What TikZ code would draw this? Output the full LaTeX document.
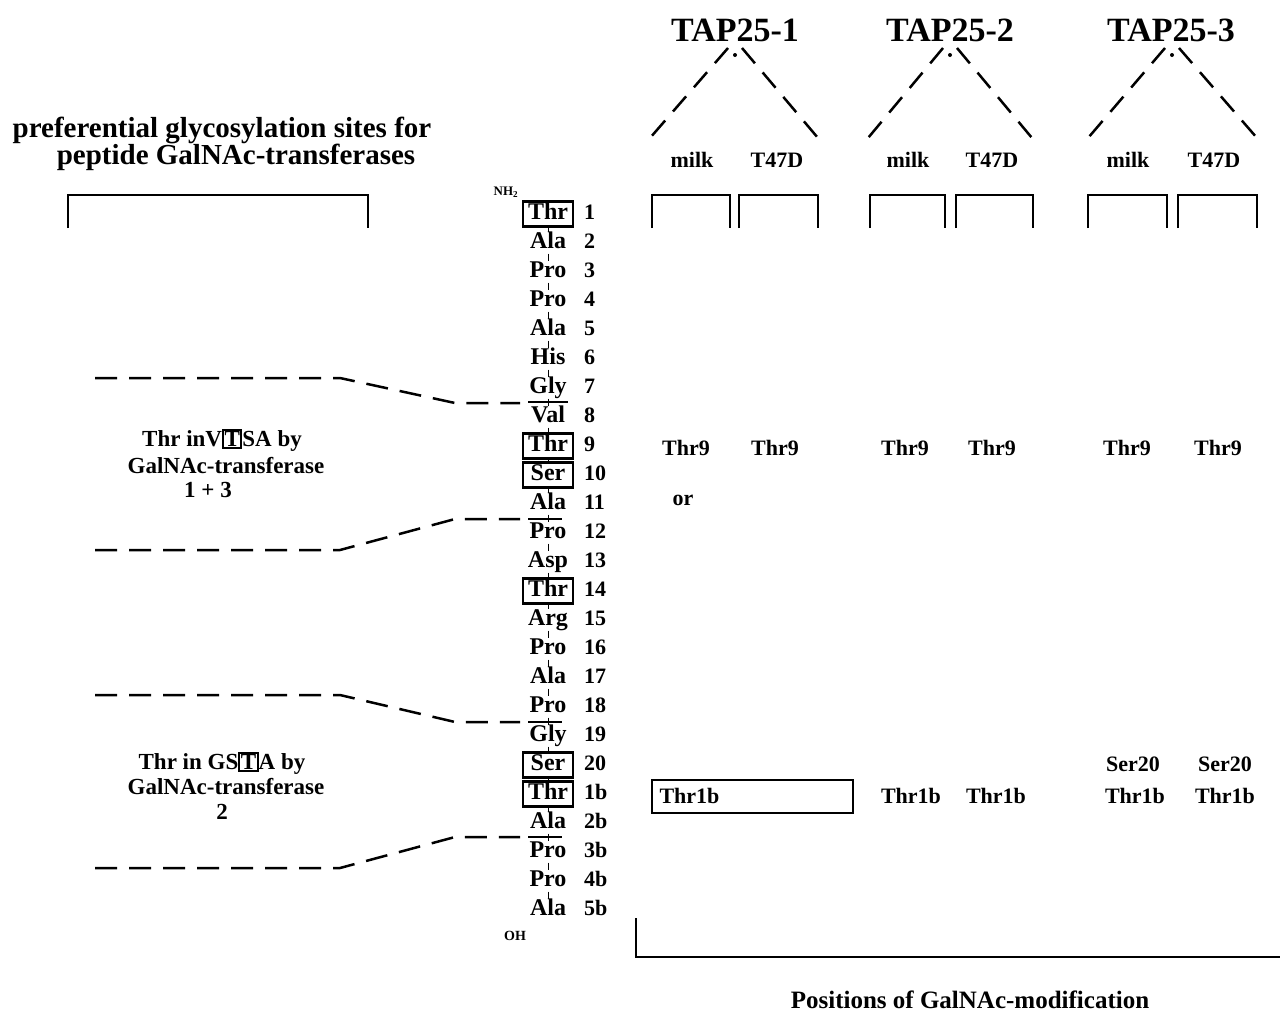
\documentclass[tikz,border=0pt]{standalone}
\usepackage{fontspec}
\setmainfont{Liberation Serif}
\newcommand{\boxT}{{\setlength{\fboxsep}{0.5pt}\setlength{\fboxrule}{2pt}\fbox{T}}}
\begin{document}
\begin{tikzpicture}[x=1pt,y=-1pt,
  lab/.style={font=\fontsize{22}{24}\selectfont\bfseries, inner sep=0pt},
  side/.style={font=\fontsize{23}{25}\selectfont\bfseries, inner sep=0pt},
  big/.style={font=\fontsize{34}{36}\selectfont\bfseries, inner sep=0pt},
  rfont/.style={font=\fontsize{24}{26}\selectfont\bfseries, text height=16pt, text depth=5pt},
  resplain/.style={rfont, inner sep=0pt},
  resbox/.style={rfont, draw, line width=2.4pt, inner xsep=3pt, inner ysep=2pt, minimum width=50pt},
  numlab/.style={rfont, font=\fontsize{22}{24}\selectfont\bfseries, inner sep=0pt, anchor=west},
  chain/.style={line width=1pt},
  brk/.style={line width=2.5pt},
  dsh/.style={line width=2.5pt, dash pattern=on 22pt off 12pt},
  tri/.style={line width=2.5pt, dash pattern=on 20pt off 12pt}]
\useasboundingbox (0,0) rectangle (1280,1013);

% left header
\node[font=\fontsize{29}{31}\selectfont\bfseries, inner sep=0pt] (h1) at (222,130) {preferential glycosylation sites for};
\node[font=\fontsize{29}{31}\selectfont\bfseries, inner sep=0pt] (h2) at (236,157) {peptide GalNAc-transferases};
\draw[brk] (68,228) -- (68,195) -- (368,195) -- (368,228);

% peptide chain
\foreach \i/\n/\k/\s in {1/Thr/1/resbox, 2/Ala/2/resplain, 3/Pro/3/resplain, 4/Pro/4/resplain,
  5/Ala/5/resplain, 6/His/6/resplain, 7/Gly/7/resplain, 8/Val/8/resplain, 9/Thr/9/resbox,
  10/Ser/10/resbox, 11/Ala/11/resplain, 12/Pro/12/resplain, 13/Asp/13/resplain, 14/Thr/14/resbox,
  15/Arg/15/resplain, 16/Pro/16/resplain, 17/Ala/17/resplain, 18/Pro/18/resplain, 19/Gly/19/resplain,
  20/Ser/20/resbox, 21/Thr/1b/resbox, 22/Ala/2b/resplain, 23/Pro/3b/resplain, 24/Pro/4b/resplain,
  25/Ala/5b/resplain}{
  \node[\s] (r\i) at (548,{214+29*(\i-1)}) {\n};
  \node[numlab] (n\i) at (584,{214+29*(\i-1)}) {\k};
}
\foreach \i [evaluate=\i as \j using int(\i+1)] in {1,...,24}{
  \draw[chain] (r\i) -- (r\j);
}
\node[font=\fontsize{13}{14}\selectfont\bfseries, inner sep=0pt] (nh) at (506,192) {NH$_{\mathbf 2}$};
\node[font=\fontsize{14}{15}\selectfont\bfseries, inner sep=0pt] (oh) at (515,936) {OH};

% dashed region markers
\draw[dsh] (95,378) -- (340,378) -- (455,403) -- (520,403);
\draw[line width=2pt] (528,402) -- (568,402);
\draw[dsh] (95,550) -- (340,550) -- (455,519) -- (520,519);
\draw[line width=2pt] (528,519) -- (562,519);
\draw[dsh] (95,695) -- (340,695) -- (455,722) -- (520,722);
\draw[line width=2pt] (528,722) -- (562,722);
\draw[dsh] (95,868) -- (340,868) -- (455,837) -- (520,837);
\draw[line width=2pt] (528,837) -- (562,837);

% side texts
\node[side] (s1a) at (222,440) {Thr inV\boxT SA by};
\node[side] (s1b) at (226,466) {GalNAc-transferase};
\node[side] (s1c) at (208,490) {1 + 3};
\node[side] (s2a) at (222,763) {Thr in GS\boxT A by};
\node[side] (s2b) at (226,787) {GalNAc-transferase};
\node[side] (s2c) at (222,812) {2};

% top titles and triangles
\node[big] (t1) at (735,30) {TAP25-1};
\node[big] (t2) at (950,30) {TAP25-2};
\node[big] (t3) at (1171,30) {TAP25-3};
\foreach \k/\ax/\l/\r in {1/735/650/818, 2/950/868/1032, 3/1172/1088/1257}{
  \coordinate (a\k) at (\ax,55);
  \coordinate (al\k) at (\l,138);
  \coordinate (ar\k) at (\r,138);
  \fill (a\k) circle (2pt);
  \draw[tri] ([xshift=-7pt,yshift=7pt]a\k) -- (al\k);
  \draw[tri] ([xshift=7pt,yshift=7pt]a\k) -- (ar\k);
}
\foreach \nm/\x/\t in {m1/692/milk, d1/777/T47D, m2/908/milk, d2/992/T47D, m3/1128/milk, d3/1214/T47D}{
  \node[lab] (\nm) at (\x,160) {\t};
}
\foreach \a/\b in {652/730, 739/818, 870/945, 956/1033, 1088/1167, 1178/1257}{
  \draw[brk] (\a,228) -- (\a,195) -- (\b,195) -- (\b,228);
}

% results
\foreach \nm/\x in {p1/686, p2/775, p3/905, p4/992, p5/1127, p6/1218}{
  \node[lab] (\nm) at (\x,448) {Thr9};
}
\node[lab] (or) at (683,500) {or};
\node[lab] (q5) at (1133,764) {Ser20};
\node[lab] (q6) at (1225,764) {Ser20};
\node[lab, draw, line width=2pt, minimum width=201pt, minimum height=33pt, text width=185pt, align=left] (b1) at (752,796) {Thr1b};
\foreach \nm/\x in {b3/911, b4/996, b5/1135, b6/1225}{
  \node[lab] (\nm) at (\x,796) {Thr1b};
}

% bottom
\draw[brk] (636,918) -- (636,957) -- (1280,957);
\node[font=\fontsize{25}{27}\selectfont\bfseries, inner sep=0pt] (pos) at (970,1000) {Positions of GalNAc-modification};
\end{tikzpicture}
\end{document}
